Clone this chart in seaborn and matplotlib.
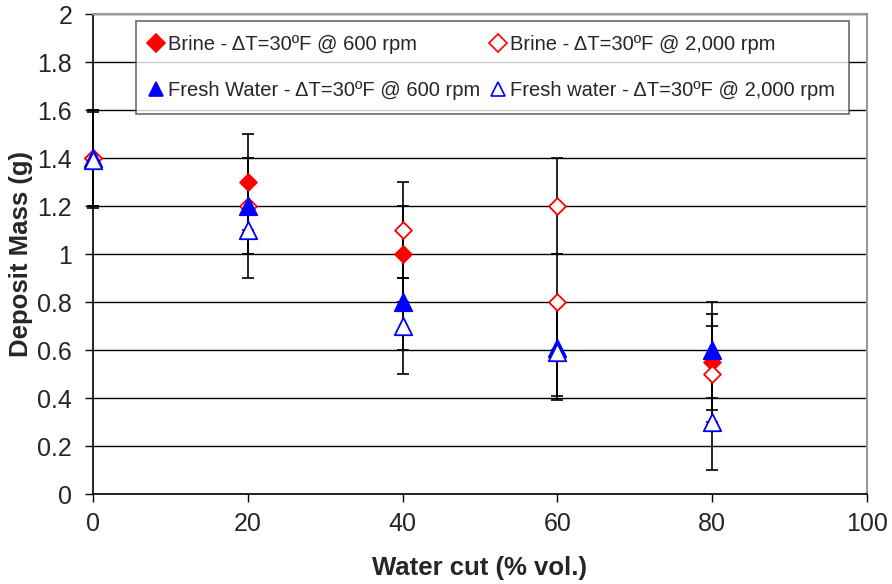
import matplotlib
matplotlib.use("Agg")
import matplotlib.pyplot as plt
import seaborn as sns
import pandas as pd

# Data
brine600_x = [0, 20, 40, 80]
brine600_y = [1.4, 1.3, 1.0, 0.55]
brine2000_x = [0, 20, 40, 60, 60, 80]
brine2000_y = [1.4, 1.2, 1.1, 1.2, 0.8, 0.5]
fresh600_x = [0, 20, 40, 60, 80]
fresh600_y = [1.4, 1.2, 0.8, 0.61, 0.6]
fresh2000_x = [0, 20, 40, 60, 80]
fresh2000_y = [1.39, 1.1, 0.7, 0.59, 0.3]
err = 0.2

labels = ["Brine - \u0394T=30\u00baF @ 600 rpm",
          "Brine - \u0394T=30\u00baF @ 2,000 rpm",
          "Fresh Water - \u0394T=30\u00baF @ 600 rpm",
          "Fresh water - \u0394T=30\u00baF @ 2,000 rpm"]

sns.set_style("white")
plt.rcParams['font.family'] = ['Liberation Sans', 'DejaVu Sans']

fig = plt.figure(figsize=(8.92, 5.84), dpi=100)
ax = fig.add_axes([93/892, 1-494/584, (867-93)/892, (494-14)/584])

series = [
    (brine600_x, brine600_y, 'D', 'red', 'red', 9),
    (brine2000_x, brine2000_y, 'D', 'white', 'red', 9),
    (fresh600_x, fresh600_y, '^', 'blue', 'blue', 11),
    (fresh2000_x, fresh2000_y, '^', 'white', 'blue', 11),
]

# error bars
for xs, ys, *_ in series:
    _, caps, bars = ax.errorbar(xs, ys, yerr=err, fmt='none', ecolor='black', elinewidth=1.2,
                                capsize=4, capthick=1.2, zorder=3)
    for c in caps:
        c.set_clip_on(False)
    for b in bars:
        b.set_clip_on(False)

handles = []
for (xs, ys, m, fc, ec, ms), lab in zip(series, labels):
    df = pd.DataFrame({"x": xs, "y": ys})
    sns.scatterplot(data=df, x="x", y="y", marker=m, s=ms**2 * (0.9 if m == 'D' else 1.3),
                    facecolor=fc, edgecolor=ec, linewidth=1.3, ax=ax, zorder=4, clip_on=False)
    h = plt.Line2D([], [], linestyle='none', marker=m, markersize=(9 if m == 'D' else 9.5),
                   markerfacecolor=fc, markeredgecolor=ec, markeredgewidth=1.2)
    handles.append(h)

ax.set_xlim(0, 100)
ax.set_ylim(0, 2)
ax.set_xticks(range(0, 101, 20))
ax.set_yticks([0, 0.2, 0.4, 0.6, 0.8, 1, 1.2, 1.4, 1.6, 1.8, 2])
ax.set_yticklabels(["0", "0.2", "0.4", "0.6", "0.8", "1", "1.2", "1.4", "1.6", "1.8", "2"])
ax.tick_params(axis='both', labelsize=18, direction='out', length=6, width=1, color='black',
               left=True, bottom=True)
ax.tick_params(axis='x', pad=7)
ax.tick_params(axis='y', pad=9)
ax.yaxis.grid(True, color='black', linewidth=1)
ax.xaxis.grid(False)
ax.set_axisbelow(True)

for side in ['left', 'bottom']:
    ax.spines[side].set_color('black')
    ax.spines[side].set_linewidth(1.2)
for side in ['top', 'right']:
    ax.spines[side].set_color('#999999')
    ax.spines[side].set_linewidth(1.5)

ax.set_xlabel("Water cut (% vol.)", fontsize=18.5, fontweight='bold', labelpad=14)
ax.set_ylabel("Deposit Mass (g)", fontsize=18.5, fontweight='bold', labelpad=3)

# row-major order in a 2-column legend
order = [0, 2, 1, 3]
leg = ax.legend([handles[i] for i in order], [labels[i] for i in order], ncol=2,
                loc='upper left', bbox_to_anchor=(43/774, 1 - 7/480), borderaxespad=0,
                fontsize=14.5, frameon=True, fancybox=False, edgecolor='#444444',
                handlelength=0.6, handletextpad=0.3, columnspacing=0.55, labelspacing=1.35,
                borderpad=0.7)
leg.get_frame().set_linewidth(1.2)

fig.savefig("out.png", dpi=100)
